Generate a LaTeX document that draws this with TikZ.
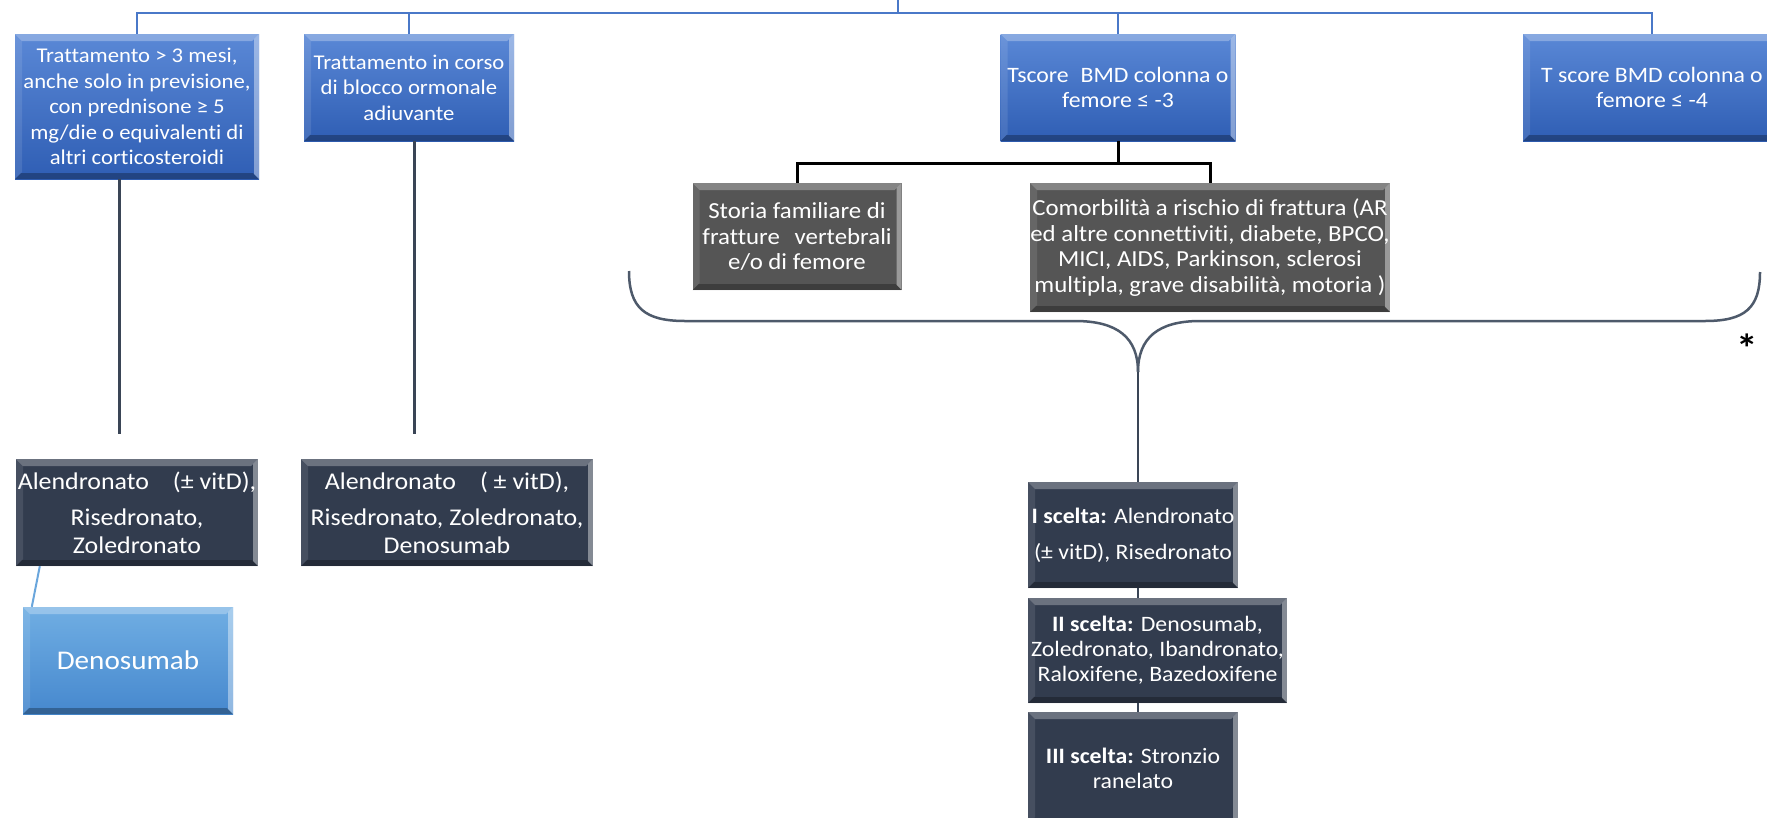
\documentclass[tikz,border=0pt]{standalone}
\usepackage{fontspec}
\setmainfont{Carlito}[FakeStretch=1.08, Ligatures=CommonOff]
\usetikzlibrary{calc}
\definecolor{bluetop}{HTML}{5A88D6}
\definecolor{bluebot}{HTML}{2F5EB4}
\definecolor{darkbox}{HTML}{323C4E}
\definecolor{graybox}{HTML}{555555}
\definecolor{lbtop}{HTML}{70AEE3}
\definecolor{lbbot}{HTML}{4688CE}
\definecolor{bluelink}{HTML}{4A78C8}
\definecolor{stemc}{HTML}{3A4556}
\definecolor{bracec}{HTML}{4E5A6B}
\definecolor{lblink}{HTML}{6AA6DC}
\tikzset{
  bevel/.style={path picture={
    \fill[white,opacity=0.28] (path picture bounding box.north west) -- (path picture bounding box.north east)
       -- ([shift={(-7pt,-7pt)}]path picture bounding box.north east) -- ([shift={(7pt,-7pt)}]path picture bounding box.north west) -- cycle;
    \fill[white,opacity=0.10] (path picture bounding box.north west) -- ([shift={(7pt,-7pt)}]path picture bounding box.north west)
       -- ([shift={(7pt,7pt)}]path picture bounding box.south west) -- (path picture bounding box.south west) -- cycle;
    \fill[white,opacity=0.40] (path picture bounding box.north east) -- (path picture bounding box.south east)
       -- ([shift={(-5pt,5pt)}]path picture bounding box.south east) -- ([shift={(-5pt,-5pt)}]path picture bounding box.north east) -- cycle;
    \fill[black,opacity=0.28] (path picture bounding box.south west) -- (path picture bounding box.south east)
       -- ([shift={(-6pt,6pt)}]path picture bounding box.south east) -- ([shift={(6pt,6pt)}]path picture bounding box.south west) -- cycle;
  }},
  boxbase/.style={inner sep=0pt, align=center, text=white, bevel, font=\fontsize{22}{25}\selectfont},
  bluebox/.style={boxbase, top color=bluetop, bottom color=bluebot},
  darkbox/.style={boxbase, fill=darkbox},
  bigdark/.style={darkbox, font=\fontsize{24}{28}\selectfont},
  graybox/.style={boxbase, fill=graybox, font=\fontsize{23}{25.5}\selectfont},
  lightbox/.style={boxbase, top color=lbtop, bottom color=lbbot, font=\fontsize{27}{30}\selectfont},
  bluelinkst/.style={draw=bluelink, line width=2.5pt},
  blackst/.style={draw=black, line width=3pt},
  stemst/.style={draw=stemc, line width=3pt},
  bracest/.style={draw=bracec, line width=2.5pt},
  lblinkst/.style={draw=lblink, line width=2pt},
}
\begin{document}
\begin{tikzpicture}[x=1pt,y=-1pt]
\useasboundingbox (0,0) rectangle (1767,817);
\clip (0,0) rectangle (1767,817);
\fill[white] (0,0) rectangle (1767,817);

% top row
\node[bluebox, minimum width=244pt, minimum height=145pt, font=\fontsize{21}{25.5}\selectfont] (b1) at (137,106.5)
  {Trattamento > 3 mesi,\\ anche solo in previsione,\\ con prednisone ≥ 5\\ mg/die o equivalenti di\\ altri corticosteroidi};
\node[bluebox, minimum width=210pt, minimum height=107pt, font=\fontsize{21}{25.5}\selectfont] (b2) at (409,87.5)
  {Trattamento in corso\\ di blocco ormonale\\ adiuvante};
\node[bluebox, minimum width=235pt, minimum height=107pt] (b3) at (1118,87.5)
  {Tscore\hspace{0.3em} BMD colonna o\\ femore ≤ -3};
\node[bluebox, minimum width=258pt, minimum height=107pt] (b4) at (1652,87.5)
  {T score BMD colonna o\\ femore ≤ -4};

% gray boxes
\node[graybox, minimum width=209pt, minimum height=107pt] (g1) at (797,236.5)
  {Storia familiare di\\ fratture\hspace{0.4em} vertebrali\\ e/o di femore};
\node[graybox, minimum width=360pt, minimum height=129pt] (g2) at (1210,247.5)
  {Comorbilità a rischio di frattura (AR\\ ed altre connettiviti, diabete, BPCO,\\ MICI, AIDS, Parkinson, sclerosi\\ multipla, grave disabilità, motoria )};

% dark boxes left
\node[bigdark, minimum width=242pt, minimum height=107pt] (d1) at (137,512.5)
  {Alendronato\hspace{1em}(± vitD),\\[8pt] Risedronato,\\ Zoledronato};
\node[bigdark, minimum width=292pt, minimum height=107pt] (d2) at (447,512.5)
  {Alendronato\hspace{1em}( ± vitD),\\[8pt] Risedronato, Zoledronato,\\ Denosumab};
\node[lightbox, minimum width=210pt, minimum height=107pt] (den) at (128,660.5) {Denosumab};

% choice boxes
\node[darkbox, minimum width=210pt, minimum height=106pt] (s1) at (1133,535)
  {\textbf{I scelta:} Alendronato\\[11pt] (± vitD), Risedronato};
\node[darkbox, minimum width=259pt, minimum height=105pt] (s2) at (1157.5,650.5)
  {\textbf{II scelta:} Denosumab,\\ Zoledronato, Ibandronato,\\ Raloxifene, Bazedoxifene};
\node[darkbox, minimum width=210pt, minimum height=112pt] (s3) at (1133,768)
  {\textbf{III scelta:} Stronzio\\ ranelato};

% top connector
\coordinate (root) at (898,0);
\coordinate (hub) at (898,13);
\draw[bluelinkst] (root) -- (hub);
\draw[bluelinkst] (b1.north) -- (b1.north |- hub) -- (b4.north |- hub) -- (b4.north);
\draw[bluelinkst] (b2.north) -- (b2.north |- hub);
\draw[bluelinkst] (b3.north) -- (b3.north |- hub);

% black connector
\coordinate (bj) at (1118,163);
\draw[blackst] (b3.south) -- (bj);
\draw[blackst] (g1.north) |- (bj) -| (g2.north);

% stems
\coordinate (e1) at (119,434);
\coordinate (e2) at (414,434);
\draw[stemst] (b1.south -| e1) -- (e1);
\draw[stemst] (b2.south -| e2) -- (e2);
\draw[lblinkst] ([xshift=24pt]d1.south west) -- ([xshift=9pt]den.north west);

% brace
\coordinate (bl) at (629,271);
\coordinate (bc) at (1138,372);
\coordinate (br) at (1760,272);
\draw[bracest] (bl) .. controls (629,308) and (645,321) .. (685,321) -- (1075,321)
  .. controls (1118,321) and (1138,338) .. (bc);
\draw[bracest] (br) .. controls (1760,308) and (1745,321) .. (1705,321) -- (1200,321)
  .. controls (1158,321) and (1138,338) .. (bc);
\draw[stemst, line width=2.5pt] (bc) -- (s1.north -| bc);
\draw[stemst, line width=2.5pt] (s1.south -| bc) -- (s2.north -| bc);
\draw[stemst, line width=2.5pt] (s2.south -| bc) -- (s3.north -| bc);

\node[font=\fontsize{40}{40}\selectfont\bfseries, inner sep=0pt] (ast) at (1747,348) {*};
\end{tikzpicture}
\end{document}
